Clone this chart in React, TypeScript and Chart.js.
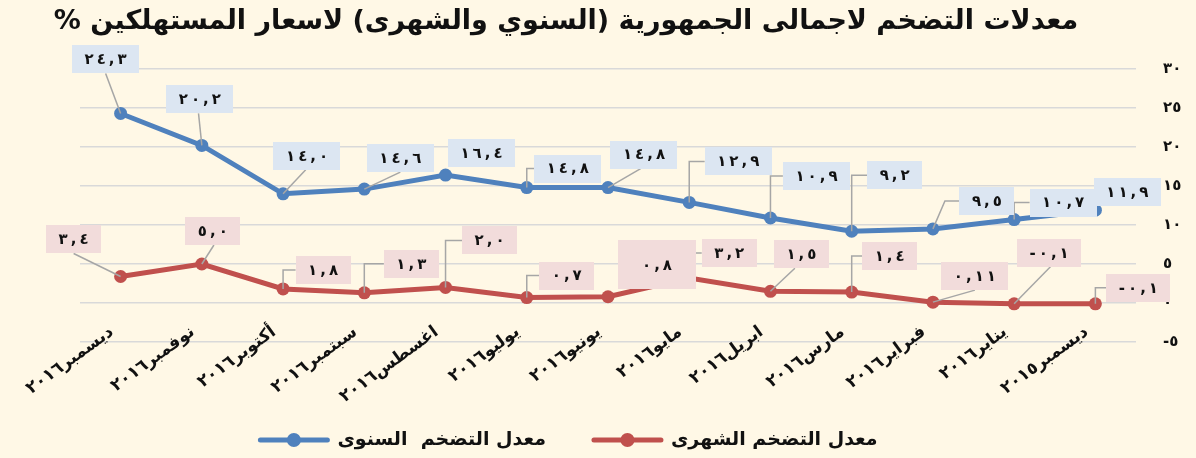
import React, { useEffect, useRef } from 'react';
import { Chart, registerables } from 'chart.js';

Chart.register(...registerables);

// ---------- data ----------
const chartTitle = 'معدلات التضخم لاجمالى الجمهورية (السنوي والشهرى) لاسعار المستهلكين %';

const categories = [
  'ديسمبر٢٠١٦',
  'نوفمبر٢٠١٦',
  'أكتوبر٢٠١٦',
  'سبتمبر٢٠١٦',
  'اغسطس٢٠١٦',
  'يوليو٢٠١٦',
  'يونيو٢٠١٦',
  'مايو٢٠١٦',
  'ابريل٢٠١٦',
  'مارس٢٠١٦',
  'فبراير٢٠١٦',
  'يناير٢٠١٦',
  'ديسمبر٢٠١٥',
];

const annualLabel = 'معدل التضخم  السنوى';
const monthlyLabel = 'معدل التضخم الشهرى';

const annualValues = [24.3, 20.2, 14.0, 14.6, 16.4, 14.8, 14.8, 12.9, 10.9, 9.2, 9.5, 10.7, 11.9];
const monthlyValues = [3.4, 5.0, 1.8, 1.3, 2.0, 0.7, 0.8, 3.2, 1.5, 1.4, 0.11, -0.1, -0.1];

const yMin = -5;
const yMax = 30;
const yStep = 5;

// ---------- styles ----------
const FONT = '"DejaVu Sans", sans-serif';
const BG = '#fff8e6';
const BLUE = '#4f81bd';
const RED = '#c0504d';
const BLUE_BOX = '#dce6f2';
const RED_BOX = '#f2dcdb';
const LEADER = '#a6a6a6';
const TEXT = '#111111';

// callout placement (box centre offset from the point, leader style)
type Callout = { dx: number; dy: number; leader: 'none' | 'diag' | 'elbow'; fx?: number; ex?: number; w?: number; h?: number };

const annualCallouts: Callout[] = [
  { dx: -15, dy: -54, leader: 'diag', fx: 0.5 },
  { dx: -2, dy: -46, leader: 'diag', fx: 0.48 },
  { dx: 24, dy: -38, leader: 'diag', fx: 0.48 },
  { dx: 36, dy: -31, leader: 'diag', fx: 0.5 },
  { dx: 36, dy: -22, leader: 'none' },
  { dx: 41, dy: -19, leader: 'elbow' },
  { dx: 36, dy: -33, leader: 'diag', fx: 0.45 },
  { dx: 49, dy: -41, leader: 'elbow' },
  { dx: 46, dy: -42, leader: 'elbow' },
  { dx: 43, dy: -56, leader: 'elbow' },
  { dx: 54, dy: -28, leader: 'elbow', ex: 12 },
  { dx: 49, dy: -17, leader: 'elbow' },
  { dx: 32, dy: -18, leader: 'none' },
];

const monthlyCallouts: Callout[] = [
  { dx: -47, dy: -37, leader: 'diag', fx: 0.5 },
  { dx: 11, dy: -33, leader: 'diag', fx: 0.52 },
  { dx: 40, dy: -19, leader: 'elbow' },
  { dx: 47, dy: -29, leader: 'elbow' },
  { dx: 44, dy: -47, leader: 'elbow' },
  { dx: 40, dy: -22, leader: 'elbow' },
  { dx: 49, dy: -32, leader: 'none', w: 78, h: 49 },
  { dx: 40, dy: -25, leader: 'elbow' },
  { dx: 31, dy: -37, leader: 'diag', fx: 0.38 },
  { dx: 38, dy: -36, leader: 'elbow' },
  { dx: 42, dy: -26, leader: 'diag', fx: 0.5 },
  { dx: 35, dy: -51, leader: 'diag', fx: 0.52 },
  { dx: 43, dy: -16, leader: 'elbow' },
];

const calloutSets = [annualCallouts, monthlyCallouts];
const boxColors = [BLUE_BOX, RED_BOX];

const AR_DIGITS = '٠١٢٣٤٥٦٧٨٩';
function toArabicDigits(s: string): string {
  return s.replace(/[0-9]/g, (d) => AR_DIGITS[Number(d)]);
}
function formatValue(v: number): string {
  const s = Number.isInteger(v) ? v.toFixed(1) : String(v);
  return toArabicDigits(s).replace('.', ',');
}

const CHAR_SPACING = 3;

const calloutPlugin = {
  id: 'calloutLabels',
  afterDatasetsDraw(chart: any) {
    const ctx: CanvasRenderingContext2D = chart.ctx;
    const items: any[] = [];
    ctx.save();
    ctx.font = `bold 15px ${FONT}`;
    chart.data.datasets.forEach((ds: any, di: number) => {
      const meta = chart.getDatasetMeta(di);
      const set = calloutSets[di];
      meta.data.forEach((el: any, j: number) => {
        const cfg = set[j];
        if (!cfg) return;
        const text = formatValue(ds.data[j]);
        const chars = Array.from(text);
        const cw = chars.map((c) => ctx.measureText(c).width);
        const tw = cw.reduce((a, b) => a + b, 0) + CHAR_SPACING * (chars.length - 1);
        const w = cfg.w ?? tw + 25;
        const h = cfg.h ?? 28;
        const cx = el.x + cfg.dx;
        const cy = el.y + cfg.dy;
        items.push({ text, chars, cw, tw, w, h, cx, cy, px: el.x, py: el.y, cfg, color: boxColors[di] });
      });
    });
    // leaders
    ctx.strokeStyle = LEADER;
    ctx.lineWidth = 1.5;
    items.forEach((it) => {
      const left = it.cx - it.w / 2;
      const bottom = it.cy + it.h / 2;
      if (it.cfg.leader === 'diag') {
        ctx.beginPath();
        ctx.moveTo(left + (it.cfg.fx ?? 0.5) * it.w, bottom);
        ctx.lineTo(it.px, it.py);
        ctx.stroke();
      } else if (it.cfg.leader === 'elbow') {
        ctx.beginPath();
        ctx.moveTo(left, it.cy);
        ctx.lineTo(it.px + (it.cfg.ex ?? 0), it.cy);
        ctx.lineTo(it.px, it.py);
        ctx.stroke();
      }
    });
    // boxes
    items.forEach((it) => {
      ctx.fillStyle = it.color;
      ctx.fillRect(Math.round(it.cx - it.w / 2), Math.round(it.cy - it.h / 2), Math.round(it.w), Math.round(it.h));
    });
    // texts (numbers read left to right, drawn glyph by glyph for the wide spacing)
    ctx.fillStyle = TEXT;
    ctx.textAlign = 'left';
    ctx.textBaseline = 'middle';
    items.forEach((it) => {
      let x = it.cx - it.tw / 2;
      it.chars.forEach((c: string, k: number) => {
        ctx.fillText(c, x, it.cy + 1);
        x += it.cw[k] + CHAR_SPACING;
      });
    });
    ctx.restore();
  },
};

const titleLegendPlugin = {
  id: 'titleLegend',
  afterDraw(chart: any) {
    const ctx: CanvasRenderingContext2D = chart.ctx;
    ctx.save();
    // title
    ctx.fillStyle = TEXT;
    ctx.font = `bold 27px ${FONT}`;
    (ctx as any).direction = 'rtl';
    ctx.textAlign = 'center';
    ctx.textBaseline = 'middle';
    ctx.fillText(chartTitle, 566, 22);
    (ctx as any).direction = 'ltr';

    // legend
    ctx.font = `bold 19px ${FONT}`;
    const markerW = 71;
    const gap = 8;
    const itemGap = 46;
    const dsets = chart.data.datasets;
    const widths = dsets.map((d: any) => markerW + gap + ctx.measureText(d.label).width);
    const total = widths.reduce((a: number, b: number) => a + b, 0) + itemGap * (dsets.length - 1);
    let x = 568 - total / 2;
    const y = 440;
    dsets.forEach((d: any, i: number) => {
      ctx.strokeStyle = d.borderColor;
      ctx.lineWidth = 5;
      ctx.lineCap = 'round';
      ctx.beginPath();
      ctx.moveTo(x + 2, y);
      ctx.lineTo(x + markerW - 2, y);
      ctx.stroke();
      ctx.fillStyle = d.borderColor;
      ctx.beginPath();
      ctx.arc(x + markerW / 2, y, 7, 0, Math.PI * 2);
      ctx.fill();
      ctx.fillStyle = TEXT;
      ctx.textAlign = 'left';
      ctx.textBaseline = 'middle';
      ctx.fillText(d.label, x + markerW + gap, y);
      x += widths[i] + itemGap;
    });
    ctx.restore();
  },
};

export default function App() {
  const canvasRef = useRef<HTMLCanvasElement | null>(null);

  useEffect(() => {
    const canvas = canvasRef.current;
    if (!canvas) return;
    const chart = new Chart(canvas, {
      type: 'line',
      data: {
        labels: categories,
        datasets: [
          {
            label: annualLabel,
            data: annualValues,
            borderColor: BLUE,
            backgroundColor: BLUE,
            borderWidth: 5,
            pointRadius: 6.5,
            pointBorderWidth: 0,
            pointBackgroundColor: BLUE,
            tension: 0,
          },
          {
            label: monthlyLabel,
            data: monthlyValues,
            borderColor: RED,
            backgroundColor: RED,
            borderWidth: 5,
            pointRadius: 6.5,
            pointBorderWidth: 0,
            pointBackgroundColor: RED,
            tension: 0,
          },
        ],
      },
      options: {
        animation: false,
        responsive: false,
        maintainAspectRatio: false,
        devicePixelRatio: 1,
        layout: { padding: { left: 80, top: 69, right: 0, bottom: 0 } },
        plugins: {
          legend: { display: false },
          title: { display: false },
          tooltip: { enabled: false },
        },
        scales: {
          x: {
            offset: true,
            grid: { display: false },
            border: { display: false },
            ticks: {
              autoSkip: false,
              minRotation: 36,
              maxRotation: 36,
              padding: -28,
              labelOffset: -9,
              color: TEXT,
              font: { family: FONT, size: 17, weight: 'bold' },
            },
            afterFit: (s: any) => {
              s.height = 116;
              s._computeLabelArea = () => undefined;
            },
          },
          y: {
            position: 'right',
            min: yMin,
            max: yMax,
            grid: { color: '#d9d9d9', lineWidth: 1.5, drawTicks: false },
            border: { display: false },
            ticks: {
              stepSize: yStep,
              crossAlign: 'near',
              padding: 27,
              color: TEXT,
              font: { family: FONT, size: 15, weight: 'bold' },
              callback: (v: any) => toArabicDigits(String(v)),
            },
            afterFit: (s: any) => {
              s.width = 60;
            },
          },
        },
      } as any,
      plugins: [calloutPlugin, titleLegendPlugin],
    });
    return () => chart.destroy();
  }, []);

  return (
    <div style={{ position: 'fixed', left: 0, top: 0, width: 1196, height: 458, background: BG }}>
      <canvas ref={canvasRef} width={1196} height={458} style={{ display: 'block' }} />
    </div>
  );
}
